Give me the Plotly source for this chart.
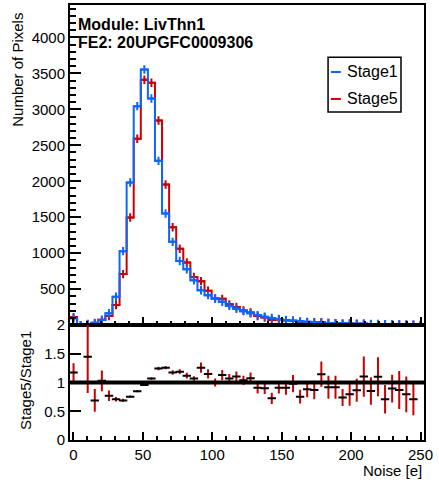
import numpy as np
import plotly.graph_objects as go

# 50 bins of noise [e], edges -2.5 .. 252.5
bin_edges = np.linspace(-2.5, 252.5, 51)
bin_centers = 0.5 * (bin_edges[:-1] + bin_edges[1:])

stage1 = [95, 0, 11, 32, 72, 165, 394, 1029, 1983, 3044, 3554, 3151, 2284, 1552, 1158,
          892, 778, 625, 486, 417, 371, 324, 270, 228, 195, 165, 140, 118, 100, 85,
          72, 62, 53, 46, 40, 35, 31, 28, 25, 24, 21, 19, 17, 15, 13, 12, 10, 9, 8, 0]
stage5 = [112, 0, 16, 22, 74, 127, 280, 710, 1497, 2590, 3410, 3370, 2845, 1955, 1360,
          1062, 872, 669, 612, 480, 371, 366, 289, 252, 203, 177, 127, 106, 72, 77,
          66, 61, 40, 41, 35, 40, 29, 26, 18, 19, 18, 21, 15, 17, 9, 11, 9, 7, 6, 0]

# Stage5/Stage1 ratio and its errors (None = empty bin)
ratio = [1.175, None, 1.45, 0.69, 1.03, 0.77, 0.71, 0.69, 0.755, 0.85, 0.96, 1.07, 1.245,
         1.26, 1.175, 1.19, 1.12, 1.07, 1.26, 1.15, 1.0, 1.13, 1.07, 1.105, 1.04, 1.075,
         0.91, 0.90, 0.725, 0.91, 0.91, 0.98, 0.755, 0.885, 0.87, 1.146, 0.92, 0.92, 0.74,
         0.795, 0.865, 1.105, 0.855, 1.10, 0.71, 0.895, 0.87, 0.795, 0.71, None]
ratio_err = [0.16, 0, 0.63, 0.2, 0.18, 0.09, 0.04, 0.03, 0.02, 0.02, 0.02, 0.02, 0.03,
             0.03, 0.04, 0.04, 0.05, 0.04, 0.09, 0.08, 0.07, 0.09, 0.08, 0.09, 0.08, 0.1,
             0.1, 0.1, 0.1, 0.1, 0.12, 0.15, 0.12, 0.14, 0.16, 0.22, 0.2, 0.2, 0.15, 0.2,
             0.2, 0.35, 0.24, 0.34, 0.25, 0.24, 0.33, 0.31, 0.28, 0]

y_ticks = [500, 1000, 1500, 2000, 2500, 3000, 3500, 4000]
ratio_ticks = [0, 0.5, 1, 1.5, 2]
ratio_labels = ["0", "0.5", "1", "1.5", "2"]
x_ticks = [0, 50, 100, 150, 200, 250]

BLUE = "#0a66ff"
RED = "#cc0000"
FONT = "Liberation Sans, Arial, sans-serif"
X_RANGE = [-2.5, 252.5]
SPLIT = 0.264  # bottom of top pad in paper coords

fig = go.Figure()

# histograms as steps over full bin edges (red first so blue sits on top)
for vals, col, name in [(stage5, RED, "Stage5"), (stage1, BLUE, "Stage1")]:
    fig.add_trace(go.Scatter(
        x=bin_edges, y=list(vals) + [vals[-1]],
        mode="lines", line=dict(color=col, width=2, shape="hv"),
        name=name, showlegend=False, xaxis="x", yaxis="y"))
    fig.add_trace(go.Scatter(
        x=bin_centers, y=vals, mode="markers",
        marker=dict(symbol="cross-thin", size=6, line=dict(color=col, width=2)),
        showlegend=False, xaxis="x", yaxis="y", cliponaxis=True))

# ratio pad
fig.add_trace(go.Scatter(
    x=bin_centers, y=ratio, mode="markers",
    marker=dict(symbol="line-ew", size=6, line=dict(color="black", width=2)),
    error_y=dict(type="data", array=ratio_err, color=RED, thickness=2, width=0),
    showlegend=False, xaxis="x2", yaxis="y2"))

fig.add_shape(type="line", xref="x2", yref="y2", x0=X_RANGE[0], x1=X_RANGE[1],
              y0=1, y1=1, line=dict(color="black", width=4), layer="above")

axis_common = dict(showline=True, linecolor="black", linewidth=2, mirror=True,
                   showgrid=False, zeroline=False, ticks="inside", tickcolor="black",
                   tickwidth=2, automargin=False,
                   tickfont=dict(family=FONT, size=15, color="black"))

fig.update_layout(
    width=439, height=480,
    margin=dict(l=70, r=15, t=5, b=40),
    paper_bgcolor="white", plot_bgcolor="white",
    font=dict(family=FONT, size=15, color="black"),
    xaxis=dict(domain=[0, 1], range=X_RANGE, anchor="y", showticklabels=False,
               tickvals=x_ticks, ticklen=8,
               minor=dict(ticks="inside", dtick=10, ticklen=4, tickcolor="black", tickwidth=1.5),
               **axis_common),
    yaxis=dict(domain=[SPLIT, 1], range=[0, 4450], anchor="x",
               tickvals=y_ticks, ticklen=11,
               minor=dict(ticks="inside", dtick=100, ticklen=6, tickcolor="black", tickwidth=1.5),
               **axis_common),
    xaxis2=dict(domain=[0, 1], range=X_RANGE, anchor="y2", matches="x",
                tickvals=x_ticks, ticklen=8,
                minor=dict(ticks="inside", dtick=10, ticklen=4, tickcolor="black", tickwidth=1.5),
                **axis_common),
    yaxis2=dict(domain=[0, SPLIT], range=[0, 2], anchor="x2",
                tickvals=ratio_ticks, ticktext=ratio_labels, ticklen=11,
                **axis_common),
)

# module info text
fig.add_annotation(text="<b>Module: LivThn1</b>", xref="paper", yref="paper",
                   x=0.018, y=0.955, xanchor="left", yanchor="middle", showarrow=False,
                   font=dict(family=FONT, size=16, color="black"))
fig.add_annotation(text="<b>FE2: 20UPGFC0009306</b>", xref="paper", yref="paper",
                   x=0.018, y=0.914, xanchor="left", yanchor="middle", showarrow=False,
                   font=dict(family=FONT, size=16, color="black"))

# axis titles (ROOT style: right/top aligned)
fig.add_annotation(text="Number of Pixels", xref="paper", yref="paper",
                   x=-0.147, y=0.851, textangle=-90, xanchor="center", yanchor="middle",
                   showarrow=False, font=dict(family=FONT, size=15, color="black"))
fig.add_annotation(text="Stage5/Stage1", xref="paper", yref="paper",
                   x=-0.124, y=0.136, textangle=-90, xanchor="center", yanchor="middle",
                   showarrow=False, font=dict(family=FONT, size=15, color="black"))
fig.add_annotation(text="Noise [e]", xref="paper", yref="paper",
                   x=1.0, y=-0.071, xanchor="right", yanchor="middle",
                   showarrow=False, font=dict(family=FONT, size=15, color="black"))

# legend box drawn by hand (ROOT TLegend look)
fig.add_shape(type="rect", xref="paper", yref="paper", x0=0.729, x1=0.935,
              y0=0.754, y1=0.880, line=dict(color="black", width=1.5), fillcolor="white")
for name, col, yy in [("Stage1", BLUE, 0.846), ("Stage5", RED, 0.784)]:
    fig.add_shape(type="line", xref="paper", yref="paper", x0=0.737, x1=0.765,
                  y0=yy, y1=yy, line=dict(color=col, width=2))
    fig.add_annotation(text=name, xref="paper", yref="paper", x=0.778, y=yy,
                       xanchor="left", yanchor="middle", showarrow=False,
                       font=dict(family=FONT, size=16, color="black"))

# drop the browser's default body margin so the 439x480 canvas sits at the origin
fig.write_html("out.html", config={"displayModeBar": False},
               post_script="document.body.style.margin='0px';")
